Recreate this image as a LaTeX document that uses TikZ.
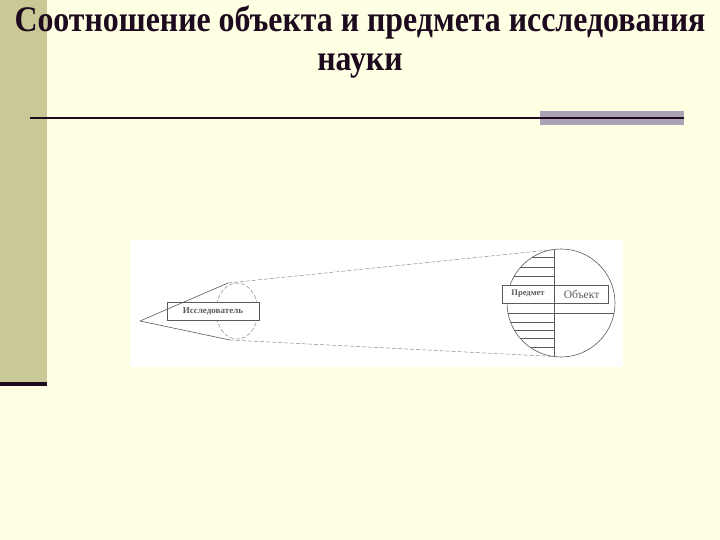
\documentclass[tikz,border=0pt]{standalone}
\usepackage{fontspec}
\setmainfont{Liberation Serif}
\newfontfamily\titlefont[FakeStretch=0.885]{Liberation Serif}
\usetikzlibrary{positioning,calc,shapes}
\usepackage{xcolor}
\definecolor{slidebg}{HTML}{FFFFE3}
\definecolor{sidebar}{HTML}{C9C897}
\definecolor{titleink}{HTML}{1E0A1E}
\definecolor{rulegray}{HTML}{ABA3B3}
\definecolor{sketch}{HTML}{5A5A5A}

\begin{document}
\begin{tikzpicture}[
    x=1pt, y=-1pt,
    title/.style={align=center, text=titleink, font=\titlefont\bfseries\fontsize{36}{39}\selectfont},
    tag/.style={rectangle, draw=sketch, fill=white, line width=0.6pt, inner sep=0pt, minimum height=18pt, text=sketch},
    sketchline/.style={draw=sketch, line width=0.6pt},
    sight/.style={draw=sketch!70, line width=0.5pt, dash pattern=on 4pt off 2pt},
    hatch/.style={draw=sketch, line width=0.5pt}
]
% Slide background
\useasboundingbox[fill=slidebg] (0,0) rectangle (720,540);
\fill[sidebar] (0,0) rectangle (47,382);
\fill[titleink] (0,382) rectangle (47,386);

% Title and rule
\node[title] (title) at (360,42) {Соотношение объекта и предмета исследования\\науки};
\fill[rulegray] (540,111) rectangle (684,125);
\draw[titleink, line width=2pt] (30,118) -- (684,118);

% Picture area
\fill[white] (130,240) rectangle (623,367);

% Points
\coordinate (eye) at (140,321);
\coordinate (lenstop) at (228,283);
\coordinate (lensbot) at (230,340);
\coordinate (objtop) at (554,249.5);
\coordinate (objbot) at (554,356.5);
\coordinate (objc) at (561,303);

% Object circle with hatching
\begin{scope}
  \clip (objc) circle [radius=54];
  \foreach \yy in {257,267,276,322,330,338,347}
    \draw[hatch] (500,\yy) -- (554,\yy);
  \draw[hatch] (500,313) -- (620,313);
\end{scope}
\draw[sketchline] (objc) circle [radius=54];
\draw[sketchline] (objtop) -- (objbot);

% Lens
\draw[sight] (237,311) ellipse [x radius=21, y radius=28];

% Nodes
\node[tag, minimum width=92pt, font=\bfseries\fontsize{9}{9}\selectfont] (researcher) at (213,311) {Исследователь};
\node[tag, minimum width=52pt, font=\bfseries\fontsize{8.5}{9}\selectfont] (subject) at (528,294) {Предмет};
\node[tag, minimum width=54pt, font=\fontsize{11.5}{12}\selectfont, right=0pt of subject] (object) {Объект};

% Lines of sight
\draw[sketchline] (eye) -- (lenstop);
\draw[sketchline] (eye) -- (lensbot);
\draw[sight] (lenstop) -- (objtop);
\draw[sight] (lensbot) -- (objbot);

\end{tikzpicture}
\end{document}
